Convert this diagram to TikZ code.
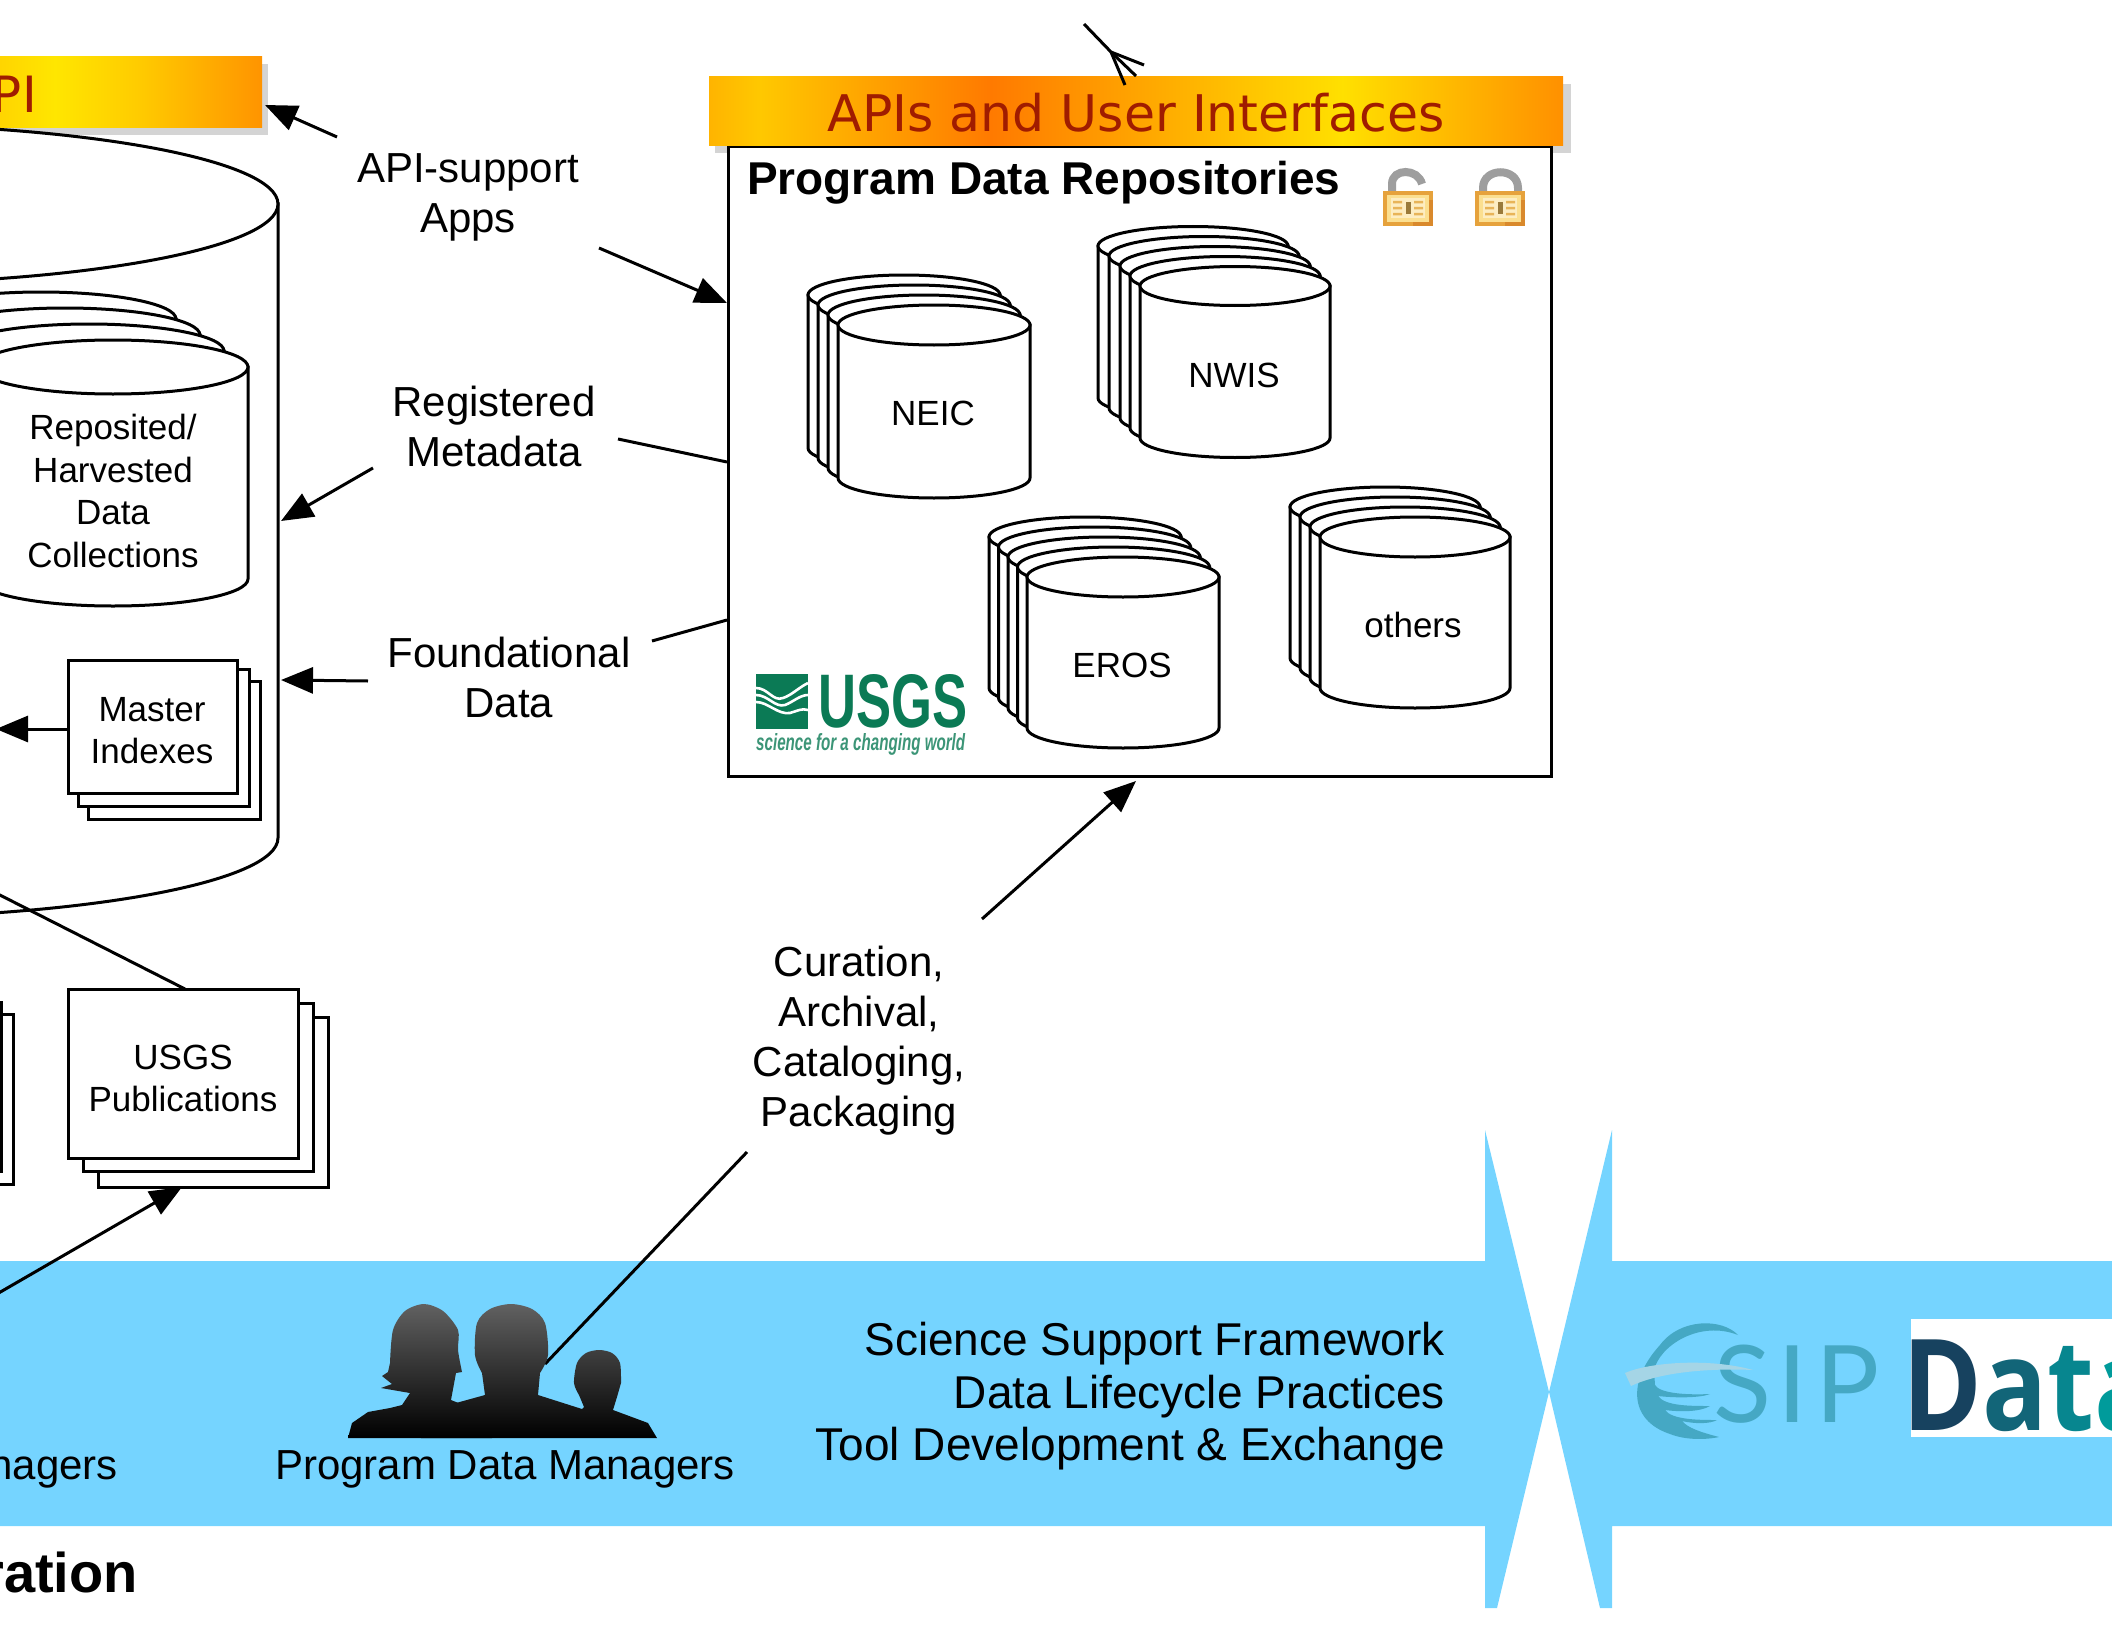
\documentclass[tikz,border=0pt]{standalone}
\usepackage{fontspec}
\usepackage{graphicx}
\setmainfont{Liberation Sans}
\newfontfamily\hdrfont{DejaVu Sans}
\newfontfamily\datafont{Open Sans}[FakeStretch=0.85]
\newfontfamily\esipfont{Lato}
\usetikzlibrary{arrows.meta,calc}
\definecolor{bandc}{HTML}{75D4FF}
\definecolor{hdrtext}{HTML}{A01C00}
\definecolor{usgsg}{HTML}{0B7A55}
\definecolor{esipc}{HTML}{45A8C4}
\definecolor{esipl}{HTML}{A5D5E6}
\definecolor{lockedge}{HTML}{E6A23C}
\definecolor{lockdark}{HTML}{D9892C}
\definecolor{lockin}{HTML}{FBDF90}
\definecolor{lockmark}{HTML}{E8B458}
\definecolor{lockhole}{HTML}{9A7A3A}
\pgfdeclarehorizontalshading{hdrshade}{100bp}{rgb(0bp)=(1,0.706,0); rgb(25bp)=(1,0.706,0); rgb(28bp)=(1,0.784,0); rgb(41.5bp)=(1,0.478,0); rgb(62.1bp)=(1,0.878,0); rgb(75bp)=(1,0.565,0); rgb(100bp)=(1,0.565,0)}
\pgfdeclarehorizontalshading{apishade}{100bp}{rgb(0bp)=(1,0.835,0); rgb(25bp)=(1,0.835,0); rgb(35.5bp)=(1,0.902,0); rgb(51bp)=(1,0.8,0); rgb(75bp)=(1,0.58,0); rgb(100bp)=(1,0.58,0)}
\tikzset{
  lab/.style={font=\fontsize{42}{50}\selectfont,align=center,text=black,inner sep=0pt},
  small/.style={font=\fontsize{35}{42}\selectfont,align=center,text=black,inner sep=0pt},
  ln/.style={draw=black,line width=3pt},
  arr/.style={draw=black,line width=3pt,-{Triangle[length=32pt,width=26pt]}},
  sheet/.style={draw=black,fill=white,line width=3pt,outer sep=0pt},
  shadowb/.style={fill=black!17,draw=none},
}
\newcommand\mycyl[6]{% cx, ctop, cbot, rx, ry, lw
  \path[draw=black,fill=white,line width=#6pt] (#1-#4,#2) -- (#1-#4,#3) arc[start angle=180,end angle=360,x radius=#4pt,y radius=#5pt] -- (#1+#4,#2) -- cycle;
  \path[draw=black,fill=white,line width=#6pt] (#1,#2) ellipse[x radius=#4pt,y radius=#5pt];
}
\newcommand\lockbody[1]{% left x
  \fill[lockedge] (#1,191) rectangle ++(50,35);
  \fill[lockdark] (#1+30,222) rectangle ++(20,4);
  \fill[lockdark] (#1+46,200) rectangle ++(4,26);
  \fill[lockin] (#1+4,195) rectangle ++(42,27);
  \fill[lockin!55!white] (#1+8,198) rectangle ++(34,20);
  \fill[lockhole] (#1+22.5,202) rectangle ++(5,12);
  \fill[lockmark] (#1+10,201) rectangle ++(9,2.5) (#1+10,207) rectangle ++(9,2.5) (#1+10,213) rectangle ++(9,2.5);
  \fill[lockmark] (#1+31,201) rectangle ++(9,2.5) (#1+31,207) rectangle ++(9,2.5) (#1+31,213) rectangle ++(9,2.5);
}
\begin{document}
\begin{tikzpicture}[x=1pt,y=-1pt]
\useasboundingbox (0,0) rectangle (2112,1632);
\clip (0,0) rectangle (2112,1632);
% band
\fill[bandc] (0,1261) -- (1485,1261) -- (1485,1130) -- (1549,1392) -- (1497,1608) -- (1485,1608) -- (1485,1526) -- (0,1526) -- cycle;
\fill[bandc] (2112,1261) -- (1612,1261) -- (1612,1130) -- (1549,1392) -- (1600,1608) -- (1612,1608) -- (1612,1526) -- (2112,1526) -- cycle;
% left API header
\fill[shadowb] (0,64) rectangle (268,135);
\shade[shading=apishade] (0,57) rectangle (262,128);
\node[anchor=base east,font=\hdrfont\fontsize{50}{50}\selectfont,text=hdrtext,inner sep=0pt] (apihdr) at (37,113) {API};
% big cylinder
\mycyl{-159}{204}{838}{437}{80}{3}
% reposited stack
\mycyl{41}{319}{531}{135}{27}{3}
\mycyl{65}{335}{547}{135}{27}{3}
\mycyl{89}{351}{563}{135}{27}{3}
\mycyl{113}{367}{579}{135}{27}{3}
\node[small,font=\fontsize{35}{42.4}\selectfont] (repos) at (113,491) {Reposited/\\Harvested\\Data\\Collections};
% master indexes
\path[sheet] (88,681) rectangle (260,819);
\path[sheet] (78,669) rectangle (249,806);
\node[sheet,minimum width=169pt,minimum height=133pt,inner sep=0pt,anchor=north west] (master) at (68,660) {};
\node[small] (masterlbl) at (152,731) {Master\\Indexes};
% left partial stack
\path[sheet] (-30,1014) rectangle (13,1184);
\path[sheet] (-40,1002) rectangle (1,1171);
% publications
\path[sheet] (98,1017) rectangle (328,1187);
\path[sheet] (83,1003) rectangle (313,1171);
\node[sheet,minimum width=230pt,minimum height=169pt,inner sep=0pt,anchor=north west] (pubs) at (68,989) {};
\node[small] (pubslbl) at (183,1078) {USGS\\Publications};
% repo box
\fill[shadowb] (715,84) rectangle (1571,153);
\node[sheet,minimum width=823pt,minimum height=629pt,inner sep=0pt,anchor=north west] (repo) at (728,147) {};
\shade[shading=hdrshade] (709,77) rectangle (1563,146);
\node[anchor=base,font=\hdrfont\fontsize{50.5}{50}\selectfont,text=hdrtext,inner sep=0pt] (apititle) at (1136,132) {APIs and User Interfaces};
\node[anchor=base west,font=\bfseries\fontsize{46}{50}\selectfont,inner sep=0pt] (repotitle) at (747,195) {Program Data Repositories};
% locks
\draw[black!38,line width=8pt] (1392,193) -- (1392,184) .. controls (1392,168) and (1418,168) .. (1422,184);
\draw[black!38,line width=8pt] (1483,193) -- (1483,188) .. controls (1483,167) and (1518,167) .. (1518,188) -- (1518,193);
\lockbody{1383}
\lockbody{1475}
% NEIC
\mycyl{904}{295}{448}{96}{20}{3}
\mycyl{914}{305}{458}{96}{20}{3}
\mycyl{924}{315}{468}{96}{20}{3}
\mycyl{934}{325}{478}{96}{20}{3}
\node[small] (neic) at (933,413) {NEIC};
% NWIS
\mycyl{1193}{246}{398}{95}{19.5}{3}
\mycyl{1204}{256}{408}{95}{19.5}{3}
\mycyl{1215}{266}{418}{95}{19.5}{3}
\mycyl{1225}{276}{428}{95}{19.5}{3}
\mycyl{1235}{286}{438}{95}{19.5}{3}
\node[small] (nwis) at (1234,375) {NWIS};
% EROS
\mycyl{1085}{537}{688}{96}{20}{3}
\mycyl{1094.5}{547}{698}{96}{20}{3}
\mycyl{1104}{557}{708}{96}{20}{3}
\mycyl{1113.5}{567}{718}{96}{20}{3}
\mycyl{1123}{577}{728}{96}{20}{3}
\node[small] (eros) at (1122,665) {EROS};
% others
\mycyl{1385}{507}{658}{95}{20}{3}
\mycyl{1395}{517}{668}{95}{20}{3}
\mycyl{1405}{527}{678}{95}{20}{3}
\mycyl{1415}{537}{688}{95}{20}{3}
\node[small] (others) at (1413,625) {others};
% USGS logo
\fill[usgsg] (756,674) rectangle (808,729);
\draw[white,line width=2.6pt] (756,688) .. controls (768,688) and (773,702) .. (783,698) .. controls (792,695) and (798,688) .. (808,683);
\draw[white,line width=2.6pt] (756,695) .. controls (768,695) and (775,708) .. (785,705) .. controls (793,702) and (800,695) .. (808,695);
\draw[white,line width=2.6pt] (756,702) .. controls (768,702) and (778,715) .. (790,713) .. controls (797,711) and (802,708) .. (808,710);
\node[anchor=south west,inner sep=0pt,text=usgsg] (usgsword) at (818,728) {\resizebox{149pt}{53pt}{\bfseries USGS}};
\node[anchor=north west,inner sep=0pt,text=usgsg!80!white] (usgstag) at (756,733) {\resizebox{209pt}{17pt}{\bfseries\itshape science for a changing world}};
% labels
\node[lab] (apisup) at (468,197) {API-support\\Apps};
\node[lab] (regmeta) at (494,426) {Registered\\Metadata};
\node[lab] (found) at (509,677) {Foundational\\Data};
\node[lab] (cura) at (859,1041) {Curation,\\Archival,\\Cataloging,\\Packaging};
% connector ends
\coordinate (a1) at (337,137); \coordinate (a1t) at (265,105);
\coordinate (a2) at (599,248); \coordinate (a2t) at (727,303);
\coordinate (r1) at (373,468); \coordinate (r1t) at (281,521);
\coordinate (r2) at (618,439); \coordinate (r2t) at (727,462);
\coordinate (f1) at (368,681); \coordinate (f1t) at (281,680);
\coordinate (f2) at (652,641); \coordinate (f2t) at (727,620);
\coordinate (c1) at (982,919); \coordinate (c1t) at (1136,781);
\coordinate (c2) at (747,1152); \coordinate (c2e) at (545,1364);
\coordinate (mleft) at (-4,729);
\coordinate (pubin) at (185,989); \coordinate (pubout) at (-10,890);
\coordinate (pubarr) at (-10,1298); \coordinate (pubarrt) at (182,1187);
\draw[arr] (a1) -- (a1t);
\draw[arr] (a2) -- (a2t);
\draw[arr] (r1) -- (r1t);
\draw[ln] (r2t) -- (r2);
\draw[arr] (f1) -- (f1t);
\draw[ln] (f2t) -- (f2);
\draw[arr] (c1) -- (c1t);
\draw[ln] (c2) -- (c2e);
\draw[arr] (master.west |- mleft) -- (mleft);
\draw[ln] (pubin) -- (pubout);
\draw[arr] (pubarr) -- (pubarrt);
% top open arrow
\coordinate (top0) at (1084,24); \coordinate (topt) at (1111,52);
\coordinate (topb1) at (1144,65); \coordinate (topb2) at (1125,85); \coordinate (topb3) at (1136,76);
\draw[ln] (top0) -- (topt) -- (topb1);
\draw[ln] (topt) -- (topb2);
\draw[ln] (topt) -- (topb3);
% people: man and small figure as one silhouette, woman in front
\path[top color=black!62,bottom color=black] (456,1403) -- (485,1395) -- plot[smooth,tension=.5] coordinates {(482,1373) (475,1355) (477,1323) (490,1309) (511,1304) (532,1309) (545,1323) (548,1355) (540,1373)} -- (538,1395) -- (582,1409) -- (584,1407) -- plot[smooth,tension=.5] coordinates {(579,1395) (574,1383) (577,1363) (586,1353) (599,1350) (612,1353) (620,1363) (621,1383)} -- (617,1397) -- (613,1410) -- (648,1423) -- (657,1438) -- (421,1438) -- cycle;
\path[top color=black!62,bottom color=black] (348,1438) -- (352,1423) -- (368,1412) -- (390,1408) -- (402,1405) -- (410,1393) -- (381,1388) -- (392,1384) -- (382,1376) -- (388,1372) -- plot[smooth,tension=.5] coordinates {(390,1363) (393,1330) (405,1311) (424,1304) (443,1311) (458,1330) (458,1350) (462,1372)} -- (456,1373) -- (451,1400) -- (476,1410) -- (488,1422) -- (492,1438) -- cycle;
\node[lab,anchor=base] (pdm) at (505,1479) {Program Data Managers};
\node[lab,anchor=base east] (oth) at (118,1479) {nagers};
\node[anchor=base east,font=\bfseries\fontsize{56}{60}\selectfont,inner sep=0pt] (ration) at (138,1592) {ration};
% framework text
\node[anchor=base east,font=\fontsize{46}{50}\selectfont,inner sep=0pt] (ssf) at (1445,1355) {Science Support Framework};
\node[anchor=base east,font=\fontsize{46}{50}\selectfont,inner sep=0pt] (dlp) at (1445,1408) {Data Lifecycle Practices};
\node[anchor=base east,font=\fontsize{46}{50}\selectfont,inner sep=0pt] (tde) at (1445,1460) {Tool Development \& Exchange};
% ESIP logo
\fill[esipc] (1738,1335) .. controls (1722,1318) and (1680,1318) .. (1660,1345) .. controls (1628,1380) and (1628,1420) .. (1670,1434) .. controls (1685,1440) and (1705,1440) .. (1719,1437) .. controls (1700,1432) and (1688,1428) .. (1682,1421) .. controls (1695,1424) and (1710,1424) .. (1717,1420) .. controls (1700,1420) and (1672,1420) .. (1665,1410) .. controls (1680,1412) and (1700,1412) .. (1710,1406) .. controls (1690,1406) and (1665,1406) .. (1658,1396) .. controls (1675,1398) and (1700,1398) .. (1710,1394) .. controls (1690,1395) and (1660,1394) .. (1655,1385) -- (1654,1370) .. controls (1660,1345) and (1700,1320) .. (1738,1335) -- cycle;
\node[font=\esipfont\fontsize{107}{107}\selectfont,text=esipc,anchor=base,inner sep=0pt] (esips) at (1743,1422) {S};
\fill[esipl] (1625,1373) .. controls (1650,1362) and (1710,1358) .. (1753,1370) .. controls (1710,1368) and (1660,1372) .. (1631,1386) -- cycle;
\node[font=\esipfont\fontsize{107}{107}\selectfont,text=esipc,anchor=base,inner sep=0pt] (esipi) at (1792,1422) {I};
\node[font=\esipfont\fontsize{107}{107}\selectfont,text=esipc,anchor=base,inner sep=0pt] (esipp) at (1848,1422) {P};
% Data logo
\fill[white] (1911,1319) rectangle (2112,1437);
\node[anchor=base west,inner sep=0pt,font=\datafont\bfseries\fontsize{127}{127}\selectfont] (datalogo) at (1902,1430) {\textcolor[HTML]{17425F}{D}\textcolor[HTML]{126578}{a}\textcolor[HTML]{07868F}{t}\textcolor[HTML]{009B9B}{a}};
\end{tikzpicture}
\end{document}
